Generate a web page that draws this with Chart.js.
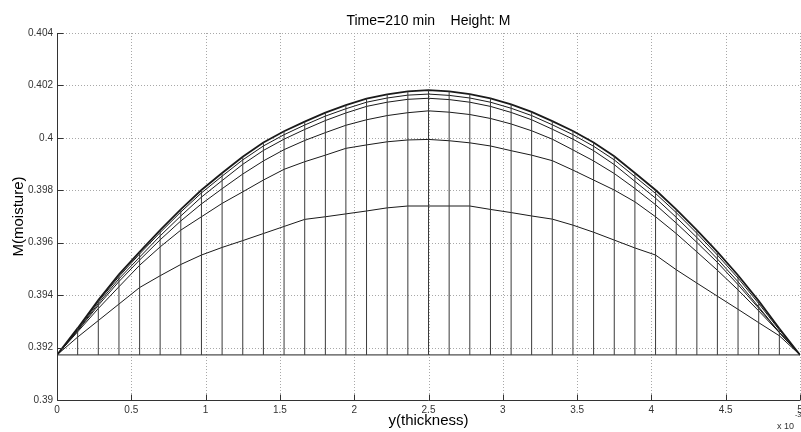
<!DOCTYPE html>
<html>
<head>
<meta charset="utf-8">
<script src="https://cdn.jsdelivr.net/npm/chart.js@4.4.1/dist/chart.umd.min.js"></script>
<style>
  body { margin: 0; background: #fff; }
  canvas { display: block; }
</style>
</head>
<body>
<canvas id="myChart" width="801" height="432"></canvas>
<script>
// grid points along the thickness (x 10^-3)
var xs = [0, 0.139, 0.278, 0.417, 0.556, 0.694, 0.833, 0.972, 1.111, 1.25, 1.389, 1.528,
  1.667, 1.806, 1.944, 2.083, 2.222, 2.361, 2.5, 2.639, 2.778, 2.917, 3.056, 3.194,
  3.333, 3.472, 3.611, 3.75, 3.889, 4.028, 4.167, 4.306, 4.444, 4.583, 4.722, 4.861, 5];

// initial moisture (flat profile)
var initial_m = 0.39172;

// moisture profiles at successive times, lowest first
var m_t1 = [0.39172, 0.39240, 0.39303, 0.39366, 0.39429, 0.39474, 0.39517, 0.39553, 0.39582, 0.39608,
  0.39635, 0.39662, 0.39689, 0.39699, 0.39710, 0.39721, 0.39733, 0.39740, 0.39740, 0.39740,
  0.39740, 0.39727, 0.39715, 0.39702, 0.39690, 0.39667, 0.39640, 0.39610, 0.39580, 0.39553,
  0.39497, 0.39446, 0.39396, 0.39346, 0.39295, 0.39245, 0.39172];
var m_t2 = [0.39172, 0.39260, 0.39349, 0.39432, 0.39514, 0.39584, 0.39648, 0.39699, 0.39750, 0.39794,
  0.39839, 0.39880, 0.39909, 0.39934, 0.39960, 0.39973, 0.39985, 0.39992, 0.39994, 0.39989,
  0.39981, 0.39969, 0.39951, 0.39934, 0.39913, 0.39877, 0.39839, 0.39801, 0.39756, 0.39699,
  0.39635, 0.39565, 0.39495, 0.39420, 0.39340, 0.39257, 0.39172];
var m_t3 = [0.39172, 0.39264, 0.39361, 0.39452, 0.39534, 0.39611, 0.39683, 0.39748, 0.39806, 0.39862,
  0.39912, 0.39955, 0.39990, 0.40020, 0.40048, 0.40069, 0.40085, 0.40096, 0.40103, 0.40098,
  0.40089, 0.40074, 0.40053, 0.40027, 0.39995, 0.39954, 0.39912, 0.39864, 0.39807, 0.39745,
  0.39675, 0.39601, 0.39525, 0.39440, 0.39350, 0.39258, 0.39172];
var m_t4 = [0.39172, 0.39266, 0.39368, 0.39462, 0.39545, 0.39626, 0.39702, 0.39774, 0.39837, 0.39899,
  0.39952, 0.39995, 0.40032, 0.40066, 0.40095, 0.40120, 0.40136, 0.40147, 0.40151, 0.40146,
  0.40136, 0.40120, 0.40097, 0.40069, 0.40033, 0.39995, 0.39951, 0.39898, 0.39834, 0.39770,
  0.39697, 0.39620, 0.39538, 0.39451, 0.39355, 0.39258, 0.39172];
var m_t5 = [0.39172, 0.39270, 0.39375, 0.39471, 0.39557, 0.39639, 0.39717, 0.39790, 0.39854, 0.39916,
  0.39969, 0.40012, 0.40049, 0.40083, 0.40111, 0.40136, 0.40152, 0.40163, 0.40167, 0.40162,
  0.40152, 0.40136, 0.40113, 0.40085, 0.40050, 0.40012, 0.39968, 0.39916, 0.39852, 0.39788,
  0.39715, 0.39636, 0.39553, 0.39465, 0.39368, 0.39267, 0.39172];
var m_t6 = [0.39172, 0.39274, 0.39381, 0.39479, 0.39565, 0.39648, 0.39727, 0.39801, 0.39866, 0.39928,
  0.39982, 0.40025, 0.40062, 0.40096, 0.40125, 0.40150, 0.40166, 0.40177, 0.40182, 0.40177,
  0.40167, 0.40151, 0.40128, 0.40099, 0.40064, 0.40026, 0.39982, 0.39930, 0.39866, 0.39801,
  0.39727, 0.39648, 0.39565, 0.39476, 0.39378, 0.39273, 0.39172];

var profiles = [m_t1, m_t2, m_t3, m_t4, m_t5, m_t6];

var FONT = '"Liberation Sans", Arial, Helvetica, sans-serif';

function to_points(vals) {
  return xs.map(function(x, i) { return {x: x, y: vals[i]}; });
}

// mesh columns: vertical strokes from the initial level up to the last profile
var columns = [];
for (var i = 0; i < xs.length; i++) {
  columns.push({x: xs[i], y: initial_m});
  columns.push({x: xs[i], y: m_t6[i]});
  columns.push({x: xs[i], y: null});
}

var datasets = [{
  data: columns, borderColor: '#3a3a3a', borderWidth: 1, spanGaps: false
}, {
  data: [{x: 0, y: initial_m}, {x: 5, y: initial_m}], borderColor: '#222', borderWidth: 1
}];
profiles.forEach(function(p, k) {
  datasets.push({
    data: to_points(p),
    borderColor: '#1a1a1a',
    borderWidth: k == profiles.length - 1 ? 1.8 : 1
  });
});

function line(ctx, x1, y1, x2, y2) {
  ctx.beginPath();
  ctx.moveTo(x1, y1);
  ctx.lineTo(x2, y2);
  ctx.stroke();
}

var matlab_axes = {
  id: 'matlab_axes',
  beforeDatasetsDraw: function(chart) {
    var ctx = chart.ctx, a = chart.chartArea;
    var sx = chart.scales.x, sy = chart.scales.y;
    ctx.save();
    ctx.strokeStyle = '#a8a8a8';
    ctx.lineWidth = 1;
    ctx.setLineDash([1, 2]);
    sx.ticks.forEach(function(t) {
      var px = Math.round(sx.getPixelForValue(t.value)) + 0.5;
      line(ctx, px, a.top, px, a.bottom);
    });
    sy.ticks.forEach(function(t) {
      var py = Math.round(sy.getPixelForValue(t.value)) + 0.5;
      line(ctx, a.left, py, a.right, py);
    });
    ctx.restore();
  },
  afterDatasetsDraw: function(chart) {
    var ctx = chart.ctx, a = chart.chartArea;
    var sx = chart.scales.x, sy = chart.scales.y;
    ctx.save();
    ctx.setLineDash([]);
    ctx.strokeStyle = '#333';
    ctx.lineWidth = 1;
    var left = Math.round(a.left) + 0.5, bottom = Math.round(a.bottom) + 0.5;
    line(ctx, left, a.top, left, bottom);
    line(ctx, left, bottom, a.right, bottom);
    // inward ticks
    sx.ticks.forEach(function(t) {
      var px = Math.round(sx.getPixelForValue(t.value)) + 0.5;
      line(ctx, px, bottom, px, bottom - 6);
    });
    sy.ticks.forEach(function(t) {
      var py = Math.round(sy.getPixelForValue(t.value)) + 0.5;
      line(ctx, left, py, left + 6, py);
    });

    ctx.fillStyle = '#000';
    ctx.textAlign = 'center';
    ctx.textBaseline = 'alphabetic';
    ctx.font = '14px ' + FONT;
    ctx.fillText('Time=210 min    Height: M', (a.left + a.right) / 2, 25);
    ctx.font = '15px ' + FONT;
    ctx.fillText('y(thickness)', (a.left + a.right) / 2, 425);

    ctx.save();
    ctx.translate(23, (a.top + a.bottom) / 2);
    ctx.rotate(-Math.PI / 2);
    ctx.fillText('M(moisture)', 0, 0);
    ctx.restore();

    ctx.fillStyle = '#333';
    ctx.textAlign = 'left';
    ctx.font = '9px ' + FONT;
    ctx.fillText('x 10', 777, 429);
    ctx.font = '7px ' + FONT;
    ctx.fillText('-3', 795, 417);
    ctx.restore();
  }
};

var config = {
  type: 'line',
  data: {datasets: datasets},
  options: {
    responsive: false,
    animation: false,
    devicePixelRatio: 1,
    layout: {padding: {left: 0, right: 1, top: 33, bottom: 0}},
    elements: {point: {radius: 0}, line: {tension: 0}},
    plugins: {legend: {display: false}, tooltip: {enabled: false}},
    scales: {
      x: {
        type: 'linear', min: 0, max: 5,
        grid: {display: false, drawTicks: false, tickLength: 0}, border: {display: false},
        ticks: {
          stepSize: 0.5, padding: 4, color: '#333',
          font: {family: FONT, size: 10},
          maxRotation: 0,
          callback: function(v) { return String(parseFloat(v.toFixed(1))); }
        },
        afterFit: function(s) { s.height = 32; s.paddingLeft = 0; s.paddingRight = 0; }
      },
      y: {
        type: 'linear', min: 0.39, max: 0.404,
        grid: {display: false, drawTicks: false, tickLength: 0}, border: {display: false},
        ticks: {
          stepSize: 0.002, padding: 4, color: '#333',
          font: {family: FONT, size: 10},
          callback: function(v) { return String(parseFloat(v.toFixed(3))); }
        },
        afterFit: function(s) { s.width = 57; s.paddingTop = 0; s.paddingBottom = 0; }
      }
    }
  },
  plugins: [matlab_axes]
};

var myChart = new Chart(document.getElementById('myChart'), config);
</script>
</body>
</html>
